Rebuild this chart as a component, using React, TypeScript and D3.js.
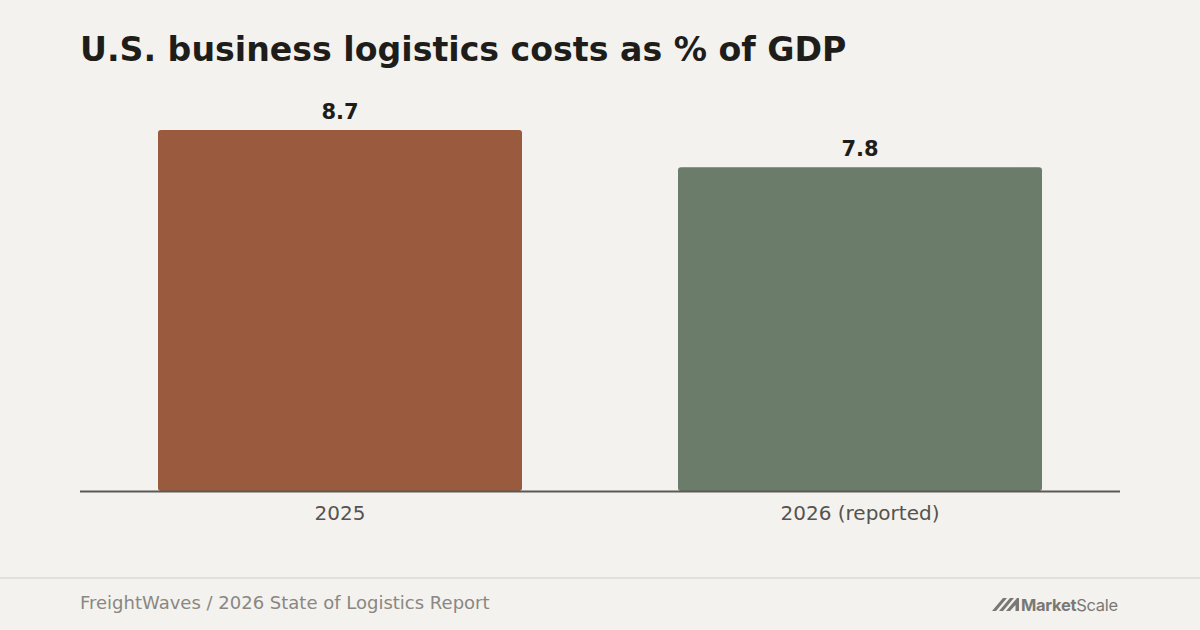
import React, { useEffect, useRef } from "react";
import * as d3 from "d3";

const categories = ["2025", "2026 (reported)"];
const values = [8.7, 7.8];
const barColors = ["#9a5a3d", "#6b7c6a"];
const title = "U.S. business logistics costs as % of GDP";
const source = "FreightWaves / 2026 State of Logistics Report";

const W = 1200;
const H = 630;

export default function App() {
  const ref = useRef<SVGSVGElement | null>(null);

  useEffect(() => {
    const svg = d3.select(ref.current);
    svg.selectAll("*").remove();
    const font = "'DejaVu Sans', sans-serif";

    svg.append("rect").attr("width", W).attr("height", H).attr("fill", "#f3f2ee");

    svg.append("text")
      .attr("x", 80).attr("y", 61)
      .attr("font-family", font).attr("font-weight", "bold").attr("font-size", 33.2)
      .attr("fill", "#1f1d1a")
      .text(title);

    const x = d3.scaleBand<string>().domain(categories).range([80, 1120])
      .paddingInner(0.3).paddingOuter(0.15);
    const y = d3.scaleLinear().domain([0, 8.7]).range([491, 130]);

    const g = svg.append("g");
    g.selectAll("path.bar").data(values).join("path")
      .attr("class", "bar")
      .attr("fill", (_d, i) => barColors[i])
      .attr("d", (d, i) => {
        const x0 = x(categories[i])!;
        const w = x.bandwidth();
        const y0 = y(d);
        const y1 = y(0);
        const r = 3;
        return `M${x0},${y1 - r}V${y0 + r}Q${x0},${y0} ${x0 + r},${y0}H${x0 + w - r}Q${x0 + w},${y0} ${x0 + w},${y0 + r}V${y1 - r}Q${x0 + w},${y1} ${x0 + w - r},${y1}H${x0 + r}Q${x0},${y1} ${x0},${y1 - r}Z`;
      });

    g.selectAll("text.val").data(values).join("text")
      .attr("class", "val")
      .attr("x", (_d, i) => x(categories[i])! + x.bandwidth() / 2)
      .attr("y", (d) => y(d) - 11.5)
      .attr("text-anchor", "middle")
      .attr("font-family", font).attr("font-weight", "bold").attr("font-size", 21)
      .attr("fill", "#1f1d1a")
      .text((d) => d.toFixed(1));

    svg.append("line")
      .attr("x1", 80).attr("x2", 1120).attr("y1", 491.5).attr("y2", 491.5)
      .attr("stroke", "#5d5853").attr("stroke-width", 1.8);

    g.selectAll("text.cat").data(categories).join("text")
      .attr("class", "cat")
      .attr("x", (d) => x(d)! + x.bandwidth() / 2)
      .attr("y", 520)
      .attr("text-anchor", "middle")
      .attr("font-family", font).attr("font-size", 20)
      .attr("fill", "#57534e")
      .text((d) => d);

    svg.append("line")
      .attr("x1", 0).attr("x2", W).attr("y1", 578).attr("y2", 578)
      .attr("stroke", "#e3e0db").attr("stroke-width", 2);

    svg.append("text")
      .attr("x", 80).attr("y", 609)
      .attr("font-family", font).attr("font-size", 18)
      .attr("fill", "#8a8782")
      .text(source);

    // logo
    const logo = svg.append("g").attr("fill", "#7a7875");
    logo.append("path").attr("d", "M992,611 L1003,598 L1007,598 L996,611 Z");
    logo.append("path").attr("d", "M999,611 L1010,598 L1014,598 L1003,611 Z");
    logo.append("path").attr("d", "M1006,611 L1017,598 L1019,598 L1019,611 L1015.5,611 L1015.5,605 L1010,611 Z");
    const lt = logo.append("text").attr("x", 1021).attr("y", 611)
      .attr("font-family", "Inter, 'Noto Sans', sans-serif").attr("font-size", 16.5)
      .attr("letter-spacing", -0.3);
    lt.append("tspan").attr("font-weight", "bold").text("Market");
    lt.append("tspan").attr("font-weight", "normal").text("Scale");
  }, []);

  return (
    <svg ref={ref} width={W} height={H} style={{ display: "block", position: "absolute", left: 0, top: 0 }} />
  );
}
